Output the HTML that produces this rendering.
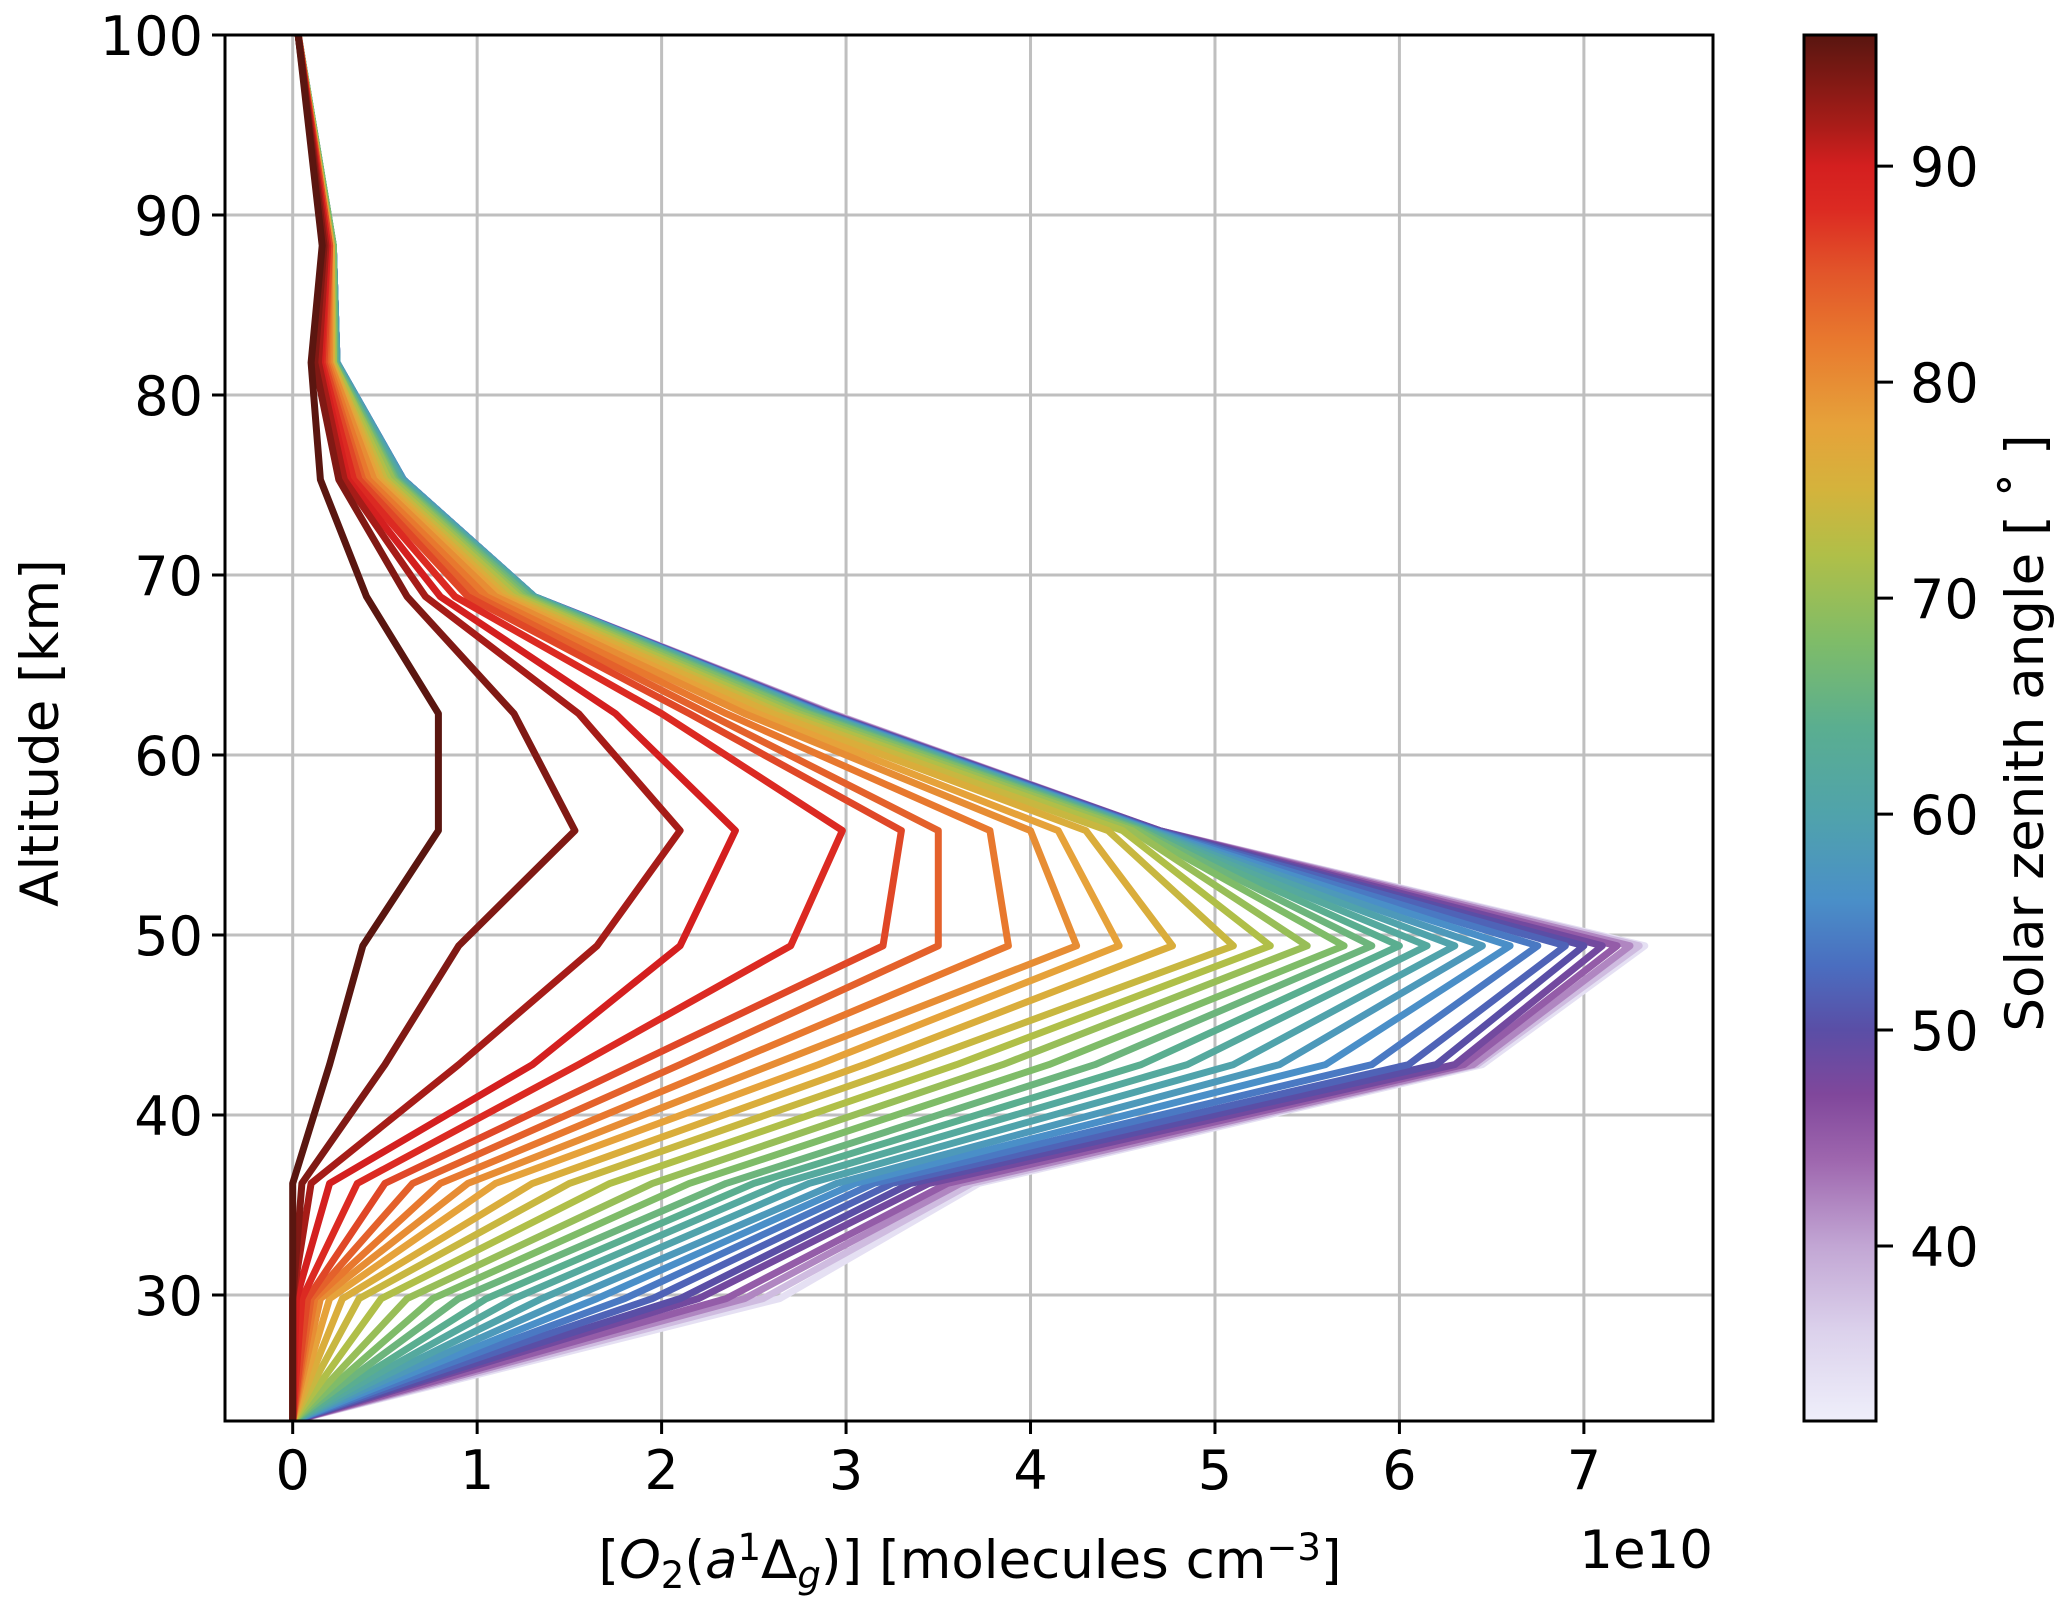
<!DOCTYPE html>
<html><head><meta charset="utf-8"><style>
html,body{margin:0;padding:0;background:#fff;}
svg{display:block;font-family:"DejaVu Sans","Liberation Sans",sans-serif;}
</style></head><body>
<svg id="chart" width="2067" height="1611" viewBox="0 0 2067 1611" xmlns="http://www.w3.org/2000/svg">
<defs>
<linearGradient id="cmap" x1="0" y1="1" x2="0" y2="0"></linearGradient>
<clipPath id="plotclip"><rect x="225" y="35" width="1488" height="1386"/></clipPath>
</defs>
<g id="grid"></g>
<g id="lines" clip-path="url(#plotclip)"></g>
<rect x="225" y="35" width="1488" height="1386" fill="none" stroke="#000" stroke-width="3"/>
<g id="xticks"></g>
<g id="yticks"></g>
<text x="970" y="1578" font-size="53" text-anchor="middle">[<tspan font-style="italic">O</tspan><tspan font-size="37" dy="10">2</tspan><tspan dy="-10">(</tspan><tspan font-style="italic">a</tspan><tspan font-size="37" dy="-18">1</tspan><tspan dy="18">Δ</tspan><tspan font-size="37" font-style="italic" dy="10">g</tspan><tspan dy="-10">)] [molecules cm</tspan><tspan font-size="37" dy="-18">−3</tspan><tspan dy="18">]</tspan></text>
<text x="1713" y="1568" font-size="53" text-anchor="end">1e10</text>
<text transform="translate(58,733) rotate(-90)" font-size="53" text-anchor="middle">Altitude [km]</text>
<rect id="cbar" x="1804" y="35" width="72" height="1386" fill="url(#cmap)" stroke="#000" stroke-width="3"/>
<g id="cticks"></g>
<text transform="translate(2043,733) rotate(-90)" font-size="53" text-anchor="middle">Solar zenith angle [ ˚ ]</text>
</svg>
<script>
const altitudes = [23, 29.8, 36.2, 42.8, 49.4, 55.8, 62.3, 68.8, 75.3, 81.8, 88.3, 100];
const szaValues = [96,94,92,90,88,86,84,82,80,78,76,74,72,70,68,66,64,62,60,58,56,54,52,50,48,45,42,38,34];
const densities = [
[0,0,0,0.2,0.38,0.79,0.79,0.4,0.15,0.1,0.16,0.03],
[0,0,0.05,0.5,0.9,1.53,1.2,0.62,0.25,0.12,0.17,0.03],
[0,0,0.1,0.9,1.65,2.1,1.55,0.72,0.28,0.14,0.18,0.03],
[0,0.02,0.2,1.3,2.1,2.4,1.75,0.8,0.3,0.15,0.19,0.03],
[0,0.05,0.35,1.55,2.7,2.98,2.0,0.88,0.33,0.16,0.19,0.03],
[0,0.08,0.5,1.85,3.2,3.3,2.15,0.95,0.36,0.17,0.2,0.03],
[0,0.1,0.65,2.1,3.5,3.5,2.25,1.0,0.38,0.18,0.2,0.03],
[0,0.12,0.8,2.35,3.88,3.78,2.35,1.05,0.41,0.19,0.2,0.03],
[0,0.15,0.95,2.6,4.25,4.0,2.45,1.1,0.44,0.2,0.2,0.03],
[0,0.2,1.1,2.85,4.48,4.15,2.52,1.13,0.46,0.2,0.21,0.03],
[0,0.27,1.3,3.1,4.77,4.3,2.6,1.16,0.48,0.21,0.21,0.03],
[0,0.36,1.5,3.35,5.1,4.42,2.65,1.19,0.5,0.21,0.21,0.03],
[0,0.48,1.72,3.6,5.3,4.5,2.7,1.22,0.52,0.22,0.21,0.03],
[0,0.62,1.95,3.85,5.5,4.55,2.74,1.24,0.54,0.22,0.21,0.03],
[0,0.76,2.15,4.1,5.7,4.58,2.78,1.26,0.55,0.22,0.22,0.03],
[0,0.9,2.35,4.35,5.85,4.6,2.8,1.28,0.56,0.23,0.22,0.03],
[0,1.05,2.5,4.6,6.0,4.62,2.82,1.29,0.57,0.23,0.22,0.03],
[0,1.2,2.65,4.85,6.15,4.63,2.84,1.3,0.58,0.23,0.22,0.03],
[0,1.35,2.8,5.1,6.3,4.64,2.85,1.31,0.59,0.24,0.22,0.03],
[0,1.5,2.95,5.35,6.45,4.65,2.86,1.31,0.6,0.24,0.22,0.03],
[0,1.65,3.05,5.6,6.6,4.66,2.87,1.31,0.6,0.24,0.22,0.03],
[0,1.8,3.15,5.85,6.75,4.67,2.88,1.31,0.6,0.24,0.22,0.03],
[0,1.95,3.25,6.05,6.9,4.68,2.89,1.31,0.6,0.24,0.22,0.03],
[0,2.1,3.35,6.2,7.0,4.69,2.9,1.31,0.6,0.24,0.22,0.03],
[0,2.2,3.45,6.3,7.1,4.7,2.9,1.31,0.6,0.24,0.22,0.03],
[0,2.35,3.55,6.35,7.18,4.7,2.91,1.31,0.6,0.24,0.22,0.03],
[0,2.45,3.62,6.4,7.25,4.7,2.92,1.31,0.6,0.24,0.22,0.03],
[0,2.55,3.68,6.42,7.3,4.7,2.93,1.31,0.6,0.24,0.22,0.03],
[0,2.64,3.72,6.45,7.33,4.7,2.93,1.31,0.6,0.24,0.22,0.03]
];
const xTickValues = [0,1,2,3,4,5,6,7];
const yTickValues = [30,40,50,60,70,80,90,100];
const cTickValues = [40,50,60,70,80,90];
const cmapStops = [[32,'#eeeefa'],[36,'#dcd2ec'],[40,'#c2a6d4'],[44,'#9e66ae'],[47,'#80479b'],[50,'#5a4ea6'],[53,'#4a6ec0'],[56,'#4a8fc8'],[60,'#50a3ab'],[64,'#5aae90'],[68,'#7fbc68'],[72,'#b0bf48'],[75,'#d4b33c'],[78,'#e6a23a'],[82,'#e8782e'],[85,'#e2562a'],[88,'#dc2a22'],[90,'#d41f1f'],[92,'#a61c18'],[96,'#5a1610']];

const XMIN=-0.367, XMAX=7.70, YMIN=23, YMAX=100, CMIN=31.9, CMAX=96.07;
const L=225,R=1713,T=35,B=1421;
const sx=v=>L+(v-XMIN)/(XMAX-XMIN)*(R-L);
const sy=v=>B-(v-YMIN)/(YMAX-YMIN)*(B-T);
const sc=v=>B-(v-CMIN)/(CMAX-CMIN)*(B-T);
const NS='http://www.w3.org/2000/svg';
function mk(tag,attrs,parent){const e=document.createElementNS(NS,tag);for(const k in attrs)e.setAttribute(k,attrs[k]);parent.appendChild(e);return e;}
function hex2rgb(h){return [parseInt(h.slice(1,3),16),parseInt(h.slice(3,5),16),parseInt(h.slice(5,7),16)];}
function cmap(v){
  if(v<=cmapStops[0][0])return cmapStops[0][1];
  for(let i=1;i<cmapStops.length;i++){
    if(v<=cmapStops[i][0]){const a=cmapStops[i-1],b=cmapStops[i];const t=(v-a[0])/(b[0]-a[0]);
      const ca=hex2rgb(a[1]),cb=hex2rgb(b[1]);return 'rgb('+ca.map((c,j)=>Math.round(c+(cb[j]-c)*t)).join(',')+')';}
  }
  return cmapStops[cmapStops.length-1][1];
}
const grid=document.getElementById('grid');
xTickValues.forEach(v=>{const l=mk('line',{x1:sx(v),x2:sx(v),y1:T,y2:B,stroke:'#bfbfbf','stroke-width':3},grid);

});
yTickValues.forEach(v=>{const l=mk('line',{x1:L,x2:R,y1:sy(v),y2:sy(v),stroke:'#bfbfbf','stroke-width':3},grid);

});
const xt=document.getElementById('xticks');
xTickValues.forEach(v=>{const l=mk('line',{x1:sx(v),x2:sx(v),y1:B,y2:B+13,stroke:'#000','stroke-width':3},xt);


const t=mk('text',{x:sx(v),y:B+68,'font-size':54,'text-anchor':'middle'},xt);t.textContent=v;

});
const yt=document.getElementById('yticks');
yTickValues.forEach(v=>{const l=mk('line',{x1:L-13,x2:L,y1:sy(v),y2:sy(v),stroke:'#000','stroke-width':3},yt);


const t=mk('text',{x:L-22,y:sy(v)+20,'font-size':54,'text-anchor':'end'},yt);t.textContent=v;

});
const grad=document.getElementById('cmap');
cmapStops.forEach(s=>{mk('stop',{offset:((s[0]-CMIN)/(CMAX-CMIN)).toFixed(4),'stop-color':s[1]},grad);});
const ct=document.getElementById('cticks');
cTickValues.forEach(v=>{const l=mk('line',{x1:1876,x2:1893,y1:sc(v),y2:sc(v),stroke:'#000','stroke-width':3},ct);


const t=mk('text',{x:1910,y:sc(v)+20,'font-size':54},ct);t.textContent=v;

});
const lg=document.getElementById('lines');
for(let i=densities.length-1;i>=0;i--){
  const pts=densities[i].map((d,j)=>sx(d).toFixed(1)+','+sy(altitudes[j]).toFixed(1)).join(' ');
  const p=mk('polyline',{points:pts,fill:'none',stroke:cmap(szaValues[i]),'stroke-width':7,'stroke-linejoin':'round'},lg);
  
  
}
</script>
</body></html>
